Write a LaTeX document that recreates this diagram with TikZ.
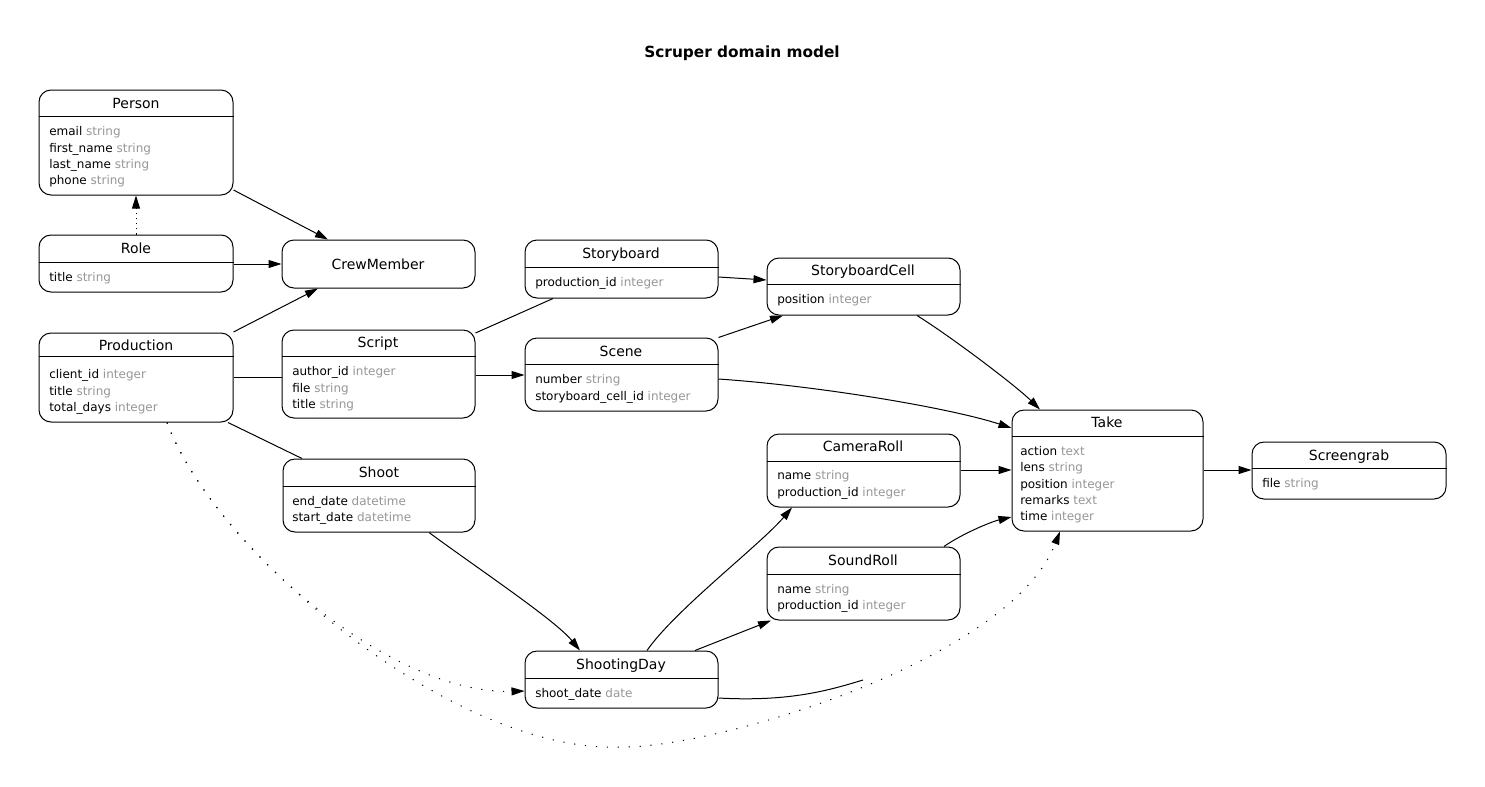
\documentclass[tikz,border=0pt]{standalone}
\usepackage{fontspec}
\setmainfont{DejaVu Sans}
\usetikzlibrary{arrows.meta,fit}
\definecolor{typegray}{RGB}{150,150,150}
\newcommand\ty[1]{\textcolor{typegray}{#1}}
\begin{document}
\begin{tikzpicture}[x=0.75pt,y=-0.75pt,
  cls/.style={draw,line width=0.75pt,rounded corners=9pt,inner sep=0pt},
  hdr/.style={line width=0.75pt},
  ctitle/.style={anchor=base,inner sep=0pt,font=\fontsize{10.5}{12}\selectfont},
  attr/.style={anchor=base west,inner sep=0pt,font=\fontsize{9}{11}\selectfont},
  rel/.style={line width=0.75pt},
  arr/.style={rel,-{Triangle[length=9.75pt,width=6pt]}},
  dotdep/.style={arr,dash pattern=on 0.8pt off 3pt},
  sparse/.style={rel,dash pattern=on 0.9pt off 7.3pt},
  sparsearr/.style={arr,dash pattern=on 0.9pt off 7.3pt}]
\useasboundingbox (0,0) rectangle (1485,786);

\node[anchor=base,inner sep=0pt,font=\fontsize{11.5}{13}\selectfont\bfseries] (title) at (742,57) {Scruper domain model};

% Person
\node[cls,fit={(39,90) (233,195)}] (person) {};
\draw[hdr] (person.west |- 0,116) -- (person.east |- 0,116);
\node[ctitle] (person-t) at (136,108) {Person};
\node[attr] (person-1) at (49,135) {email \ty{string}};
\node[attr] (person-2) at (49,152) {first\_name \ty{string}};
\node[attr] (person-3) at (49,168) {last\_name \ty{string}};
\node[attr] (person-4) at (49,184) {phone \ty{string}};

% Role
\node[cls,fit={(39,235) (233,292)}] (role) {};
\draw[hdr] (role.west |- 0,262) -- (role.east |- 0,262);
\node[ctitle] (role-t) at (136,253) {Role};
\node[attr] (role-1) at (49,281) {title \ty{string}};

% CrewMember
\node[cls,fit={(282,240) (475,288)}] (crew) {};
\node[ctitle] (crew-t) at (378,269) {CrewMember};

% Production
\node[cls,fit={(39,333) (233,422)}] (production) {};
\draw[hdr] (production.west |- 0,356) -- (production.east |- 0,356);
\node[ctitle] (production-t) at (136,350) {Production};
\node[attr] (production-1) at (49,378) {client\_id \ty{integer}};
\node[attr] (production-2) at (49,395) {title \ty{string}};
\node[attr] (production-3) at (49,411) {total\_days \ty{integer}};

% Script
\node[cls,fit={(282,330) (475,418)}] (script) {};
\draw[hdr] (script.west |- 0,356) -- (script.east |- 0,356);
\node[ctitle] (script-t) at (378,347) {Script};
\node[attr] (script-1) at (292,375) {author\_id \ty{integer}};
\node[attr] (script-2) at (292,392) {file \ty{string}};
\node[attr] (script-3) at (292,408) {title \ty{string}};

% Shoot
\node[cls,fit={(283,459) (475,532)}] (shoot) {};
\draw[hdr] (shoot.west |- 0,486) -- (shoot.east |- 0,486);
\node[ctitle] (shoot-t) at (379,477) {Shoot};
\node[attr] (shoot-1) at (292,505) {end\_date \ty{datetime}};
\node[attr] (shoot-2) at (292,521) {start\_date \ty{datetime}};

% Storyboard
\node[cls,fit={(525,240) (718,298)}] (storyboard) {};
\draw[hdr] (storyboard.west |- 0,267) -- (storyboard.east |- 0,267);
\node[ctitle] (storyboard-t) at (621,258) {Storyboard};
\node[attr] (storyboard-1) at (535,286) {production\_id \ty{integer}};

% Scene
\node[cls,fit={(525,338) (718,411)}] (scene) {};
\draw[hdr] (scene.west |- 0,364) -- (scene.east |- 0,364);
\node[ctitle] (scene-t) at (621,356) {Scene};
\node[attr] (scene-1) at (535,383) {number \ty{string}};
\node[attr] (scene-2) at (535,400) {storyboard\_cell\_id \ty{integer}};

% StoryboardCell
\node[cls,fit={(767,258) (960,315)}] (cell) {};
\draw[hdr] (cell.west |- 0,284) -- (cell.east |- 0,284);
\node[ctitle] (cell-t) at (863,275) {StoryboardCell};
\node[attr] (cell-1) at (777,303) {position \ty{integer}};

% CameraRoll
\node[cls,fit={(767,434) (960,507)}] (camera) {};
\draw[hdr] (camera.west |- 0,461) -- (camera.east |- 0,461);
\node[ctitle] (camera-t) at (863,451) {CameraRoll};
\node[attr] (camera-1) at (777,479) {name \ty{string}};
\node[attr] (camera-2) at (777,496) {production\_id \ty{integer}};

% SoundRoll
\node[cls,fit={(767,547) (960,620)}] (sound) {};
\draw[hdr] (sound.west |- 0,574) -- (sound.east |- 0,574);
\node[ctitle] (sound-t) at (863,565) {SoundRoll};
\node[attr] (sound-1) at (777,593) {name \ty{string}};
\node[attr] (sound-2) at (777,609) {production\_id \ty{integer}};

% ShootingDay
\node[cls,fit={(525,651) (718,708)}] (day) {};
\draw[hdr] (day.west |- 0,678) -- (day.east |- 0,678);
\node[ctitle] (day-t) at (621,669) {ShootingDay};
\node[attr] (day-1) at (535,697) {shoot\_date \ty{date}};

% Take
\node[cls,fit={(1012,410) (1203,531)}] (take) {};
\draw[hdr] (take.west |- 0,436) -- (take.east |- 0,436);
\node[ctitle] (take-t) at (1107,427) {Take};
\node[attr] (take-1) at (1020,455) {action \ty{text}};
\node[attr] (take-2) at (1020,471) {lens \ty{string}};
\node[attr] (take-3) at (1020,488) {position \ty{integer}};
\node[attr] (take-4) at (1020,504) {remarks \ty{text}};
\node[attr] (take-5) at (1020,520) {time \ty{integer}};

% Screengrab
\node[cls,fit={(1252,442) (1446,499)}] (grab) {};
\draw[hdr] (grab.west |- 0,468) -- (grab.east |- 0,468);
\node[ctitle] (grab-t) at (1349,460) {Screengrab};
\node[attr] (grab-1) at (1262,487) {file \ty{string}};

% connectors
\draw[arr] (person.east |- 0,190) -- (crew.north -| 328,0);
\draw[dotdep] (role.north) -- (person.south);
\draw[arr] (role.east |- 0,264) -- (crew.west);
\draw[arr] (production.east |- 0,332) -- (crew.south -| 318,0);
\draw[rel] (production.east |- 0,377) -- (script.west |- 0,377);
\draw[rel] (production.south -| 228,0) -- (shoot.north -| 302,0);
\draw[sparsearr] (production.south -| 167,0) .. controls (215,545) and (390,695) .. (day.west |- 0,691);
\draw[sparsearr] (production.south -| 167,0) .. controls (210,545) and (450,755) .. (623,747)
   .. controls (720,747) and (1010,660) .. (take.south -| 1060,0);
\coordinate (dayend) at (863,680);
\draw[rel] (day.east |- 0,698) .. controls (790,702) and (830,690) .. (dayend);
\draw[rel] (script.east |- 0,333) -- (storyboard.south -| 553,0);
\draw[arr] (script.east |- 0,375) -- (scene.west |- 0,375);
\draw[arr] (storyboard.east |- 0,277) -- (cell.west |- 0,280);
\draw[arr] (scene.north east) -- (cell.south -| 783,0);
\draw[arr] (scene.east |- 0,379) .. controls (820,386) and (950,408) .. (take.west |- 0,428);
\draw[arr] (cell.south -| 917,0) .. controls (950,336) and (1015,385) .. (take.north -| 1040,0);
\draw[arr] (take.east |- 0,470) -- (grab.west |- 0,470);
\draw[arr] (camera.east |- 0,470) -- (take.west |- 0,470);
\draw[arr] (sound.north -| 944,0) .. controls (960,535) and (990,522) .. (take.west |- 0,517);
\draw[arr] (shoot.south -| 429,0) .. controls (480,570) and (555,620) .. (day.north -| 580,0);
\draw[arr] (day.north -| 647,0) .. controls (675,610) and (760,545) .. (camera.south -| 792,0);
\draw[arr] (day.north -| 695,0) -- (sound.south -| 771,0);
\end{tikzpicture}
\end{document}
